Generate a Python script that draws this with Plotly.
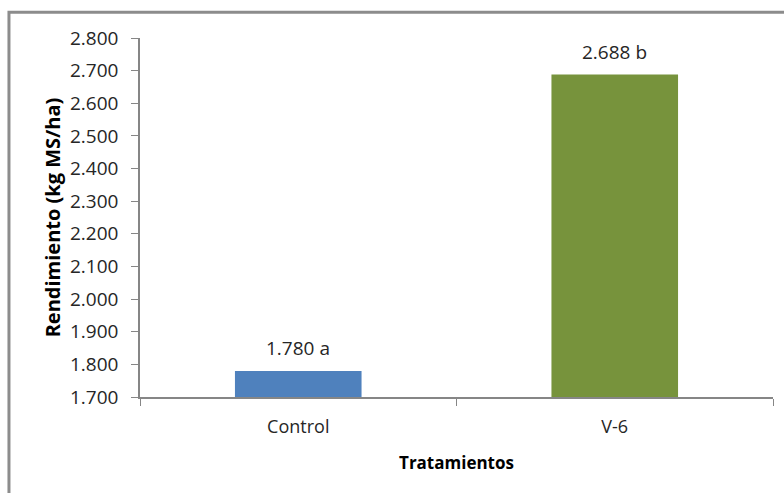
import plotly.graph_objects as go

# Dry-matter yield per treatment (kg MS/ha) and significance letters
tratamientos = ["Control", "V-6"]
rendimiento = [1780, 2688]
letras = ["a", "b"]
colores = ["#4F81BD", "#77933C"]

y_min, y_max, y_step = 1700, 2800, 100


def fmt_miles(v):
    return f"{v:,.0f}".replace(",", ".")


fig = go.Figure()
# bars start at the axis floor (y_min) and rise to each yield value
fig.add_trace(go.Bar(
    x=tratamientos,
    y=[v - y_min for v in rendimiento],
    base=y_min,
    marker=dict(color=colores, line=dict(width=0)),
    width=0.4,
    showlegend=False,
    hoverinfo="skip",
))

for cat, v, l in zip(tratamientos, rendimiento, letras):
    fig.add_annotation(
        x=cat, y=v, text=f"{fmt_miles(v)} {l}",
        showarrow=False, yanchor="middle", yshift=23,
        font=dict(family="Open Sans", size=19, color="#262626"),
    )

axis_color = "#868686"
tick_vals = list(range(y_min, y_max + 1, y_step))
fig.update_layout(
    width=784, height=493,
    margin=dict(l=140, r=11, t=38, b=96),
    paper_bgcolor="white", plot_bgcolor="white",
    font=dict(family="Open Sans", size=18, color="#262626"),
    xaxis=dict(
        type="category", range=[-0.5, 1.5],
        showline=True, linecolor=axis_color, linewidth=1.5,
        ticks="outside", tickson="boundaries", ticklen=7, tickcolor=axis_color,
        ticklabelstandoff=13,
        showgrid=False, zeroline=False,
        tickfont=dict(size=18, color="#262626"),
        title=dict(text="<b>Tratamientos</b>", standoff=20,
                   font=dict(size=17, color="#000000")),
    ),
    yaxis=dict(
        range=[y_min, y_max],
        tickmode="array",
        tickvals=tick_vals,
        ticktext=[fmt_miles(v) for v in tick_vals],
        showline=True, linecolor=axis_color, linewidth=1.5,
        ticks="outside", ticklen=7, tickcolor=axis_color,
        ticklabelstandoff=9,
        showgrid=False, zeroline=False,
        tickfont=dict(size=19, color="#262626"),
        title=dict(text="<b>Rendimiento (kg MS/ha)</b>", standoff=4,
                   font=dict(size=20, color="#000000")),
    ),
    shapes=[dict(
        type="rect", xref="paper", yref="paper",
        x0=-0.207, x1=1.05, y0=-0.4, y1=1.0715,
        line=dict(color="#8C8C8C", width=3), fillcolor="rgba(0,0,0,0)",
        layer="below",
    )],
)

fig.write_html("out.html")
